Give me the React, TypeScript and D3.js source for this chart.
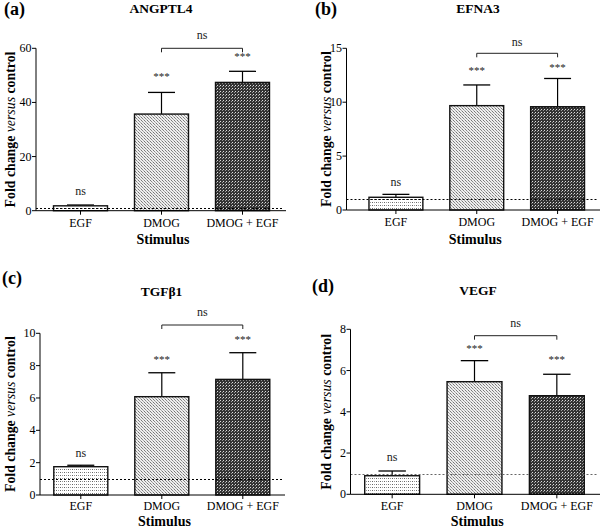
import React from "react";
import * as d3 from "d3";

const categories = ["EGF", "DMOG", "DMOG + EGF"];
const genes = ["ANGPTL4", "EFNA3", "TGFβ1", "VEGF"];
const panelLetters = ["(a)", "(b)", "(c)", "(d)"];

const angptl4Mean = [1.8, 35.7, 47.4];
const angptl4Err = [0.3, 8.0, 4.1];
const efna3Mean = [1.18, 9.68, 9.58];
const efna3Err = [0.27, 1.92, 2.62];
const tgfb1Mean = [1.75, 6.08, 7.15];
const tgfb1Err = [0.09, 1.48, 1.65];
const vegfMean = [0.9, 5.46, 4.78];
const vegfErr = [0.23, 1.02, 1.04];

const yMaxes = [60, 15, 10, 8];
const yTickSteps = [20, 5, 2, 2];
const barSig = ["ns", "***", "***"];
const bracketSig = "ns";
const baselineValue = 1;

const means = [angptl4Mean, efna3Mean, tgfb1Mean, vegfMean];
const errs = [angptl4Err, efna3Err, tgfb1Err, vegfErr];

// layout per panel
const layouts = [
  { axisX: 36, top: 48.3, bottom: 210.7, band: [40, 283], axisEnd: 286, titleX: 161, titleY: 12.5, letterX: 4, letterY: 15, ylabX: 14.5, xlabY: 226.5, stimY: 244, dashColor: "#000", sigOff: [10, 12, 11], brY: 48.3, brDrop: 4, brTxtY: 39 },
  { axisX: 346.5, top: 48.3, bottom: 210, band: [355.5, 598], axisEnd: 600, titleX: 478, titleY: 12.5, letterX: 315, letterY: 15, ylabX: 331, xlabY: 226, stimY: 244, dashColor: "#000", sigOff: [8, 11, 7], brY: 53.3, brDrop: 4, brTxtY: 45.5 },
  { axisX: 40, top: 333.3, bottom: 495, band: [40.3, 283.3], axisEnd: 285, titleX: 161.5, titleY: 296, letterX: 2, letterY: 284, ylabX: 15, xlabY: 510, stimY: 526, dashColor: "#000", sigOff: [8, 10, 10], brY: 325, brDrop: 4, brTxtY: 316 },
  { axisX: 350.5, top: 329.3, bottom: 494.3, band: [351, 598], axisEnd: 600, titleX: 478, titleY: 295, letterX: 312, letterY: 292, ylabX: 331, xlabY: 510, stimY: 526, dashColor: "#666", sigOff: [10, 9, 11], brY: 335.7, brDrop: 4, brTxtY: 327 },
];

const FONT = "Liberation Serif, Times New Roman, Times, DejaVu Serif, serif";
const fills = ["url(#patEGF)", "url(#patDMOG)", "url(#patBoth)"];
const px = (v: number) => Math.round(v) + 0.5;

function Panel({ i }: { i: number }) {
  const L = layouts[i];
  const y = d3.scaleLinear().domain([0, yMaxes[i]]).range([L.bottom, L.top]);
  const x = d3
    .scaleBand<string>()
    .domain(categories)
    .range(L.band as [number, number])
    .paddingInner(1 / 3)
    .paddingOuter(1 / 6);
  const ticks = d3.range(0, yMaxes[i] + 0.001, yTickSteps[i]);
  const bw = x.bandwidth();
  const cx = (c: string) => (x(c) as number) + bw / 2;
  const m = means[i];
  const e = errs[i];
  const midY = (L.top + L.bottom) / 2;
  return (
    <g style={{ fontFamily: FONT }}>
      <text x={L.letterX} y={L.letterY} fontWeight="bold" fontSize={18}>
        {panelLetters[i]}
      </text>
      <text x={L.titleX} y={L.titleY} fontWeight="bold" fontSize={13.5} textAnchor="middle">
        {genes[i]}
      </text>
      {categories.map((c, k) => (
        <g key={c}>
          <line x1={cx(c)} x2={cx(c)} y1={y(m[k])} y2={y(m[k] + e[k])} stroke="#000" strokeWidth={1.2} />
          <line x1={cx(c) - bw / 4} x2={cx(c) + bw / 4} y1={y(m[k] + e[k])} y2={y(m[k] + e[k])} stroke="#000" strokeWidth={1.3} />
          <rect x={x(c)} y={y(m[k])} width={bw} height={L.bottom - y(m[k])} fill={fills[k]} stroke="#111" strokeWidth={1.4} />
          <text x={cx(c)} y={y(m[k] + e[k]) - L.sigOff[k]} fontSize={barSig[k] === "ns" ? 12 : 11} textAnchor="middle" fill="#222">
            {barSig[k]}
          </text>
        </g>
      ))}
      <line x1={L.axisX} x2={L.axisEnd - 2} y1={px(y(baselineValue))} y2={px(y(baselineValue))} stroke={L.dashColor} strokeWidth={1} strokeDasharray="2,2" />
      <line x1={L.axisX} x2={L.axisX} y1={L.top} y2={L.bottom} stroke="#000" strokeWidth={1} />
      {ticks.map((t) => (
        <g key={t}>
          <line x1={L.axisX - 4} x2={L.axisX} y1={y(t)} y2={y(t)} stroke="#000" strokeWidth={1} />
          <text x={L.axisX - 4.5} y={y(t) + 4} fontSize={12} textAnchor="end">
            {t}
          </text>
        </g>
      ))}
      <line x1={L.axisX} x2={L.axisEnd} y1={L.bottom} y2={L.bottom} stroke="#000" strokeWidth={1} />
      {categories.map((c) => (
        <g key={c}>
          <line x1={cx(c)} x2={cx(c)} y1={L.bottom} y2={L.bottom + 4} stroke="#000" strokeWidth={1} />
          <text x={cx(c)} y={L.xlabY} fontSize={12} textAnchor="middle">
            {c}
          </text>
        </g>
      ))}
      <text x={(L.axisX + L.axisEnd) / 2 + 2} y={L.stimY} fontWeight="bold" fontSize={14} textAnchor="middle">
        Stimulus
      </text>
      <text transform={`translate(${L.ylabX},${midY}) rotate(-90)`} fontSize={13.8} textAnchor="middle">
        <tspan fontWeight="bold">Fold change </tspan>
        <tspan fontStyle="italic">versus</tspan>
        <tspan fontWeight="bold"> control</tspan>
      </text>
      <path
        d={`M${cx(categories[1])},${L.brY + L.brDrop}V${L.brY}H${cx(categories[2])}V${L.brY + L.brDrop}`}
        fill="none"
        stroke="#222"
        strokeWidth={1}
      />
      <text x={(cx(categories[1]) + cx(categories[2])) / 2} y={L.brTxtY} fontSize={12} textAnchor="middle" fill="#222">
        {bracketSig}
      </text>
    </g>
  );
}

export default function App() {
  return (
    <svg width={600} height={530} style={{ position: "absolute", left: 0, top: 0, background: "#fff" }}>
      <defs>
        <pattern id="patEGF" width={4} height={3} patternUnits="userSpaceOnUse">
          <rect width={4} height={3} fill="#fff" />
          <rect x={0} y={1} width={1} height={1} fill="#666" />
          <rect x={2} y={1} width={1} height={1} fill="#999" />
        </pattern>
        <pattern id="patDMOG" width={3} height={3} patternUnits="userSpaceOnUse">
          <rect width={3} height={3} fill="#eee" />
          <rect x={0} y={0} width={1} height={1} fill="#777" />
          <rect x={1} y={1} width={1} height={1} fill="#888" />
          <rect x={2} y={2} width={1} height={1} fill="#aaa" />
        </pattern>
        <pattern id="patBoth" width={3} height={3} patternUnits="userSpaceOnUse">
          <rect width={3} height={3} fill="#333" />
          <rect x={1} y={1} width={1} height={1} fill="#ddd" />
          <rect x={0} y={2} width={1} height={1} fill="#999" />
        </pattern>
      </defs>
      {[0, 1, 2, 3].map((i) => (
        <Panel key={i} i={i} />
      ))}
    </svg>
  );
}
